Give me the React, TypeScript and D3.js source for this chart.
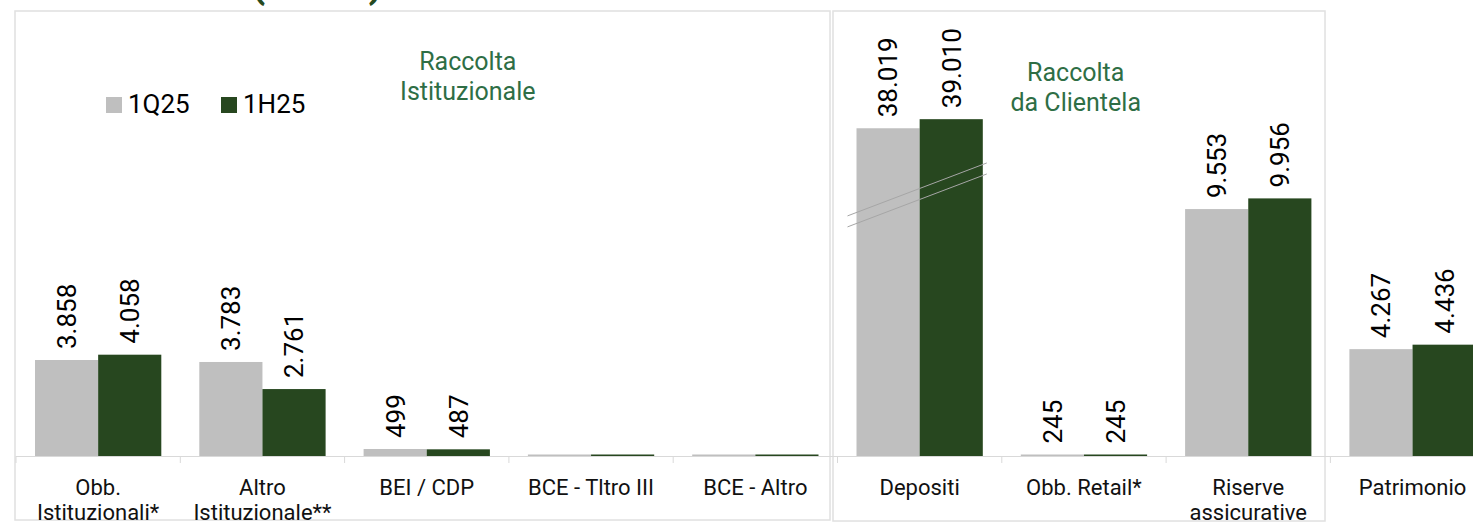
import React from 'react';
import * as d3 from 'd3';

// ---- data ----
const categories = [
  'Obb. Istituzionali*',
  'Altro Istituzionale**',
  'BEI / CDP',
  'BCE - Tltro III',
  'BCE - Altro',
  'Depositi',
  'Obb. Retail*',
  'Riserve assicurative',
  'Patrimonio',
];
const categoryLines = [
  ['Obb.', 'Istituzionali*'],
  ['Altro', 'Istituzionale**'],
  ['BEI / CDP'],
  ['BCE - Tltro III'],
  ['BCE - Altro'],
  ['Depositi'],
  ['Obb. Retail*'],
  ['Riserve', 'assicurative'],
  ['Patrimonio'],
];
const seriesNames = ['1Q25', '1H25'];
const values1Q25 = [3858, 3783, 499, 0, 0, 38019, 245, 9553, 4267];
const values1H25 = [4058, 2761, 487, 0, 0, 39010, 245, 9956, 4436];
const groupTitles = [
  { lines: ['Raccolta', 'Istituzionale'] },
  { lines: ['Raccolta', 'da Clientela'] },
];
const brokenCategory = 'Depositi';
const titleText = '(€ mln)';

// ---- style ----
const W = 1473;
const H = 523;
const GRAY = '#bfbfbf';
const GREEN = '#27471f';
const TITLE_GREEN = '#2e6e45';
const BORDER = '#e0e0e0';
const FONT = 'Roboto, "DejaVu Sans", sans-serif';
const colors = [GRAY, GREEN];

const fmt = d3.formatLocale({ decimal: ',', thousands: '.', grouping: [3], currency: ['', ''] }).format(',d');

export default function App() {
  const left = 16;
  const catW = 164.3;
  const baseline = 456;
  const x = d3.scaleBand<string>().domain(categories).range([left, left + catW * categories.length]).paddingInner(0).paddingOuter(0);
  const xs = d3.scaleBand<string>().domain(seriesNames).range([19, catW - 19]).padding(0);

  // piecewise scale with an axis break between 10.000 and 31.000
  const lowSlope = 0.0265;
  const v0 = 235;
  const yBreakLo = baseline - lowSlope * (10000 - v0);
  const y = d3
    .scaleLinear()
    .domain([v0, 10000, 31000, 41000])
    .range([baseline, yBreakLo, yBreakLo - 4.6, yBreakLo - 4.6 - 91.7]);

  const data = [values1Q25, values1H25];

  const bars: any[] = [];
  const labels: any[] = [];
  categories.forEach((c, i) => {
    seriesNames.forEach((s, j) => {
      const v = data[j][i];
      const bx = (x(c) as number) + (xs(s) as number);
      const bw = xs.bandwidth();
      const top = Math.min(y(v), baseline - 1.5);
      bars.push(<rect key={`b${i}${j}`} x={bx} y={top} width={bw} height={baseline - top} fill={colors[j]} />);
      if (v > 0) {
        const cx = bx + bw / 2;
        const ly = top - 11;
        labels.push(
          <text
            key={`l${i}${j}`}
            transform={`translate(${cx},${ly}) rotate(-90)`}
            dy="0.36em"
            textAnchor="start"
            fontSize={26}
            fontFamily={FONT}
            fill="#000"
          >
            {fmt(v)}
          </text>
        );
      }
    });
  });

  // axis break marks
  const bc = x(brokenCategory) as number;
  const bx0 = bc + 10;
  const bx1 = bc + catW - 15;
  const bmid = (yBreakLo + (yBreakLo - 4.6)) / 2;
  const slope = -0.38;
  const bxm = (bx0 + bx1) / 2;
  const breakLines = [-5.5, 5.5].map((off, k) => (
    <line
      key={`br${k}`}
      x1={bx0}
      y1={bmid + off + slope * (bx0 - bxm)}
      x2={bx1}
      y2={bmid + off + slope * (bx1 - bxm)}
      stroke="#a6a6a6"
      strokeWidth={1}
    />
  ));

  const ticks = d3.range(categories.length + 1).map((k) => left + k * catW);

  return (
    <svg width={W} height={H} style={{ position: 'absolute', left: 0, top: 0, background: '#fff' }}>
      <defs>
        <clipPath id="clipLabels">
          <rect x={0} y={0} width={W} height={520} />
        </clipPath>
      </defs>
      <rect x={0} y={0} width={W} height={H} fill="#fff" />
      {/* cropped title */}
      <text x={251} y={-3} fontSize={41} fontWeight="bold" fontFamily={FONT} fill="#264a20">
        {titleText}
      </text>
      {/* panel boxes */}
      <rect x={15} y={11} width={815} height={509} fill="none" stroke={BORDER} strokeWidth={1.5} />
      <rect x={833} y={11} width={492} height={510} fill="none" stroke={BORDER} strokeWidth={1.5} />

      {/* axis */}
      <line x1={left} x2={W} y1={baseline + 0.5} y2={baseline + 0.5} stroke="#d9d9d9" strokeWidth={1} />
      {ticks.map((t, k) => (
        <line key={`t${k}`} x1={t} x2={t} y1={baseline} y2={baseline + 7} stroke="#d9d9d9" strokeWidth={1} />
      ))}

      {bars}
      {breakLines}
      {labels}

      {/* category labels */}
      <g clipPath="url(#clipLabels)">
        {categories.map((c, i) => (
          <text
            key={`c${i}`}
            x={(x(c) as number) + catW / 2}
            y={495}
            textAnchor="middle"
            fontSize={22}
            fontFamily={FONT}
            fill="#111"
          >
            {categoryLines[i].map((ln, k) => (
              <tspan key={k} x={(x(c) as number) + catW / 2} dy={k === 0 ? 0 : 25}>
                {ln}
              </tspan>
            ))}
          </text>
        ))}
      </g>

      {/* group titles */}
      {groupTitles.map((g, k) => {
        const cx = k === 0 ? ((x(categories[2]) as number) + catW * 0.75) : ((x(categories[6]) as number) + catW * 0.45);
        const y0 = k === 0 ? 70 : 81;
        return (
          <text key={`g${k}`} x={cx} y={y0} textAnchor="middle" fontSize={25} fontFamily={FONT} fill={TITLE_GREEN}>
            {g.lines.map((ln, m) => (
              <tspan key={m} x={cx} dy={m === 0 ? 0 : 30}>
                {ln}
              </tspan>
            ))}
          </text>
        );
      })}

      {/* legend */}
      {seriesNames.map((s, k) => {
        const lx = k === 0 ? 106 : 221;
        return (
          <g key={`lg${k}`}>
            <rect x={lx} y={97} width={16} height={16} fill={colors[k]} />
            <text x={lx + 22} y={113} fontSize={26} fontFamily={FONT} fill="#000">
              {s}
            </text>
          </g>
        );
      })}
    </svg>
  );
}
